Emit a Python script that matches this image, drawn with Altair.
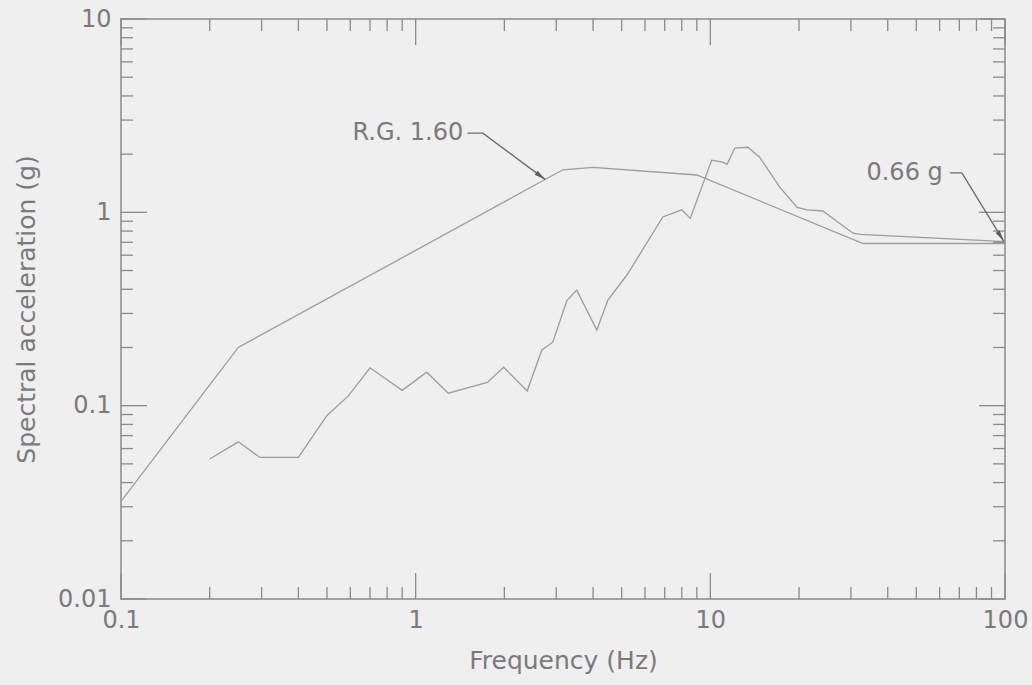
import altair as alt
import pandas as pd

# ---- data ----
# R.G. 1.60 design spectrum
rg_freq = [0.1, 0.25, 3.16, 4.0, 9.0, 33.0, 100.0]
rg_acc = [0.032, 0.20, 1.66, 1.71, 1.56, 0.69, 0.69]

# computed response spectrum
rs_freq = [0.20, 0.25, 0.296, 0.40, 0.50, 0.59, 0.70, 0.90, 1.09, 1.29, 1.75, 1.99,
           2.39, 2.68, 2.92, 3.26, 3.52, 4.12, 4.49, 5.21, 6.9, 8.0, 8.55, 10.1,
           11.0, 11.4, 12.1, 13.4, 14.7, 17.2, 19.7, 21.3, 24.1, 26.5, 30.5, 32.3, 100.0]
rs_acc = [0.053, 0.065, 0.054, 0.054, 0.089, 0.112, 0.157, 0.120, 0.149, 0.116, 0.132, 0.158,
          0.119, 0.194, 0.213, 0.35, 0.396, 0.246, 0.352, 0.474, 0.946, 1.03, 0.93, 1.86,
          1.82, 1.77, 2.15, 2.17, 1.93, 1.35, 1.06, 1.03, 1.016, 0.912, 0.78, 0.77, 0.705]

# axis ticks
x_major = [0.1, 1, 10, 100]
x_minor = [0.2, 0.3, 0.4, 0.5, 0.6, 0.7, 0.8, 0.9,
           2, 3, 4, 5, 6, 7, 8, 9,
           20, 30, 40, 50, 60, 70, 80, 90]
y_major = [0.01, 0.1, 1, 10]
y_minor = [0.02, 0.03, 0.04, 0.05, 0.06, 0.07, 0.08, 0.09,
           0.2, 0.3, 0.4, 0.5, 0.6, 0.7, 0.8, 0.9,
           2, 3, 4, 5, 6, 7, 8, 9]

# annotations
ann_text = ["R.G. 1.60", "0.66 g"]
ann_x = [1.45, 61.5]
ann_y = [2.57, 1.60]
leader_x = [[1.50, 1.69, 2.75], [65.0, 71.4, 99.0]]
leader_y = [[2.57, 2.57, 1.48], [1.60, 1.60, 0.71]]
arrow_angle = [127, 147]

# ---- styling ----
W, H = 884, 580
BG = "#efefef"
LINE = "#9c9c9c"
FRAME = "#8a8a8a"
TEXT = "#7a7a7a"
FONT = "DejaVu Sans"
MAJ, MIN = 26, 12

xscale = alt.Scale(type="log", domain=[0.1, 100], nice=False)
yscale = alt.Scale(type="log", domain=[0.01, 10], nice=False)

xaxis = alt.Axis(values=x_major, format="~g", title="Frequency (Hz)", ticks=False, tickSize=0,
                 domain=False, grid=False, labelPadding=9, titlePadding=16,
                 labelFontSize=24, titleFontSize=25, labelColor=TEXT, titleColor=TEXT,
                 labelFont=FONT, titleFont=FONT, titleFontWeight="normal", labelFlush=False)
yaxis = alt.Axis(values=y_major, format="~g", title="Spectral acceleration (g)", ticks=False,
                 tickSize=0, domain=False, grid=False, labelPadding=10, titlePadding=18,
                 labelFontSize=24, titleFontSize=25, labelColor=TEXT, titleColor=TEXT,
                 labelFont=FONT, titleFont=FONT, titleFontWeight="normal", labelFlush=False)


def X(field="f"):
    return alt.X(f"{field}:Q", scale=xscale, axis=xaxis)


def Y(field="a"):
    return alt.Y(f"{field}:Q", scale=yscale, axis=yaxis)


rg_df = pd.DataFrame({"f": rg_freq, "a": rg_acc})
rs_df = pd.DataFrame({"f": rs_freq, "a": rs_acc})

rg_line = alt.Chart(rg_df).mark_line(color=LINE, strokeWidth=1.3).encode(x=X(), y=Y())
rs_line = alt.Chart(rs_df).mark_line(color=LINE, strokeWidth=1.3).encode(x=X(), y=Y())

# inward tick marks on all four sides
xmaj_df = pd.DataFrame({"f": x_major})
xmin_df = pd.DataFrame({"f": x_minor})
ymaj_df = pd.DataFrame({"a": y_major})
ymin_df = pd.DataFrame({"a": y_minor})

tick_layers = []
for df, ln in [(xmaj_df, MAJ), (xmin_df, MIN)]:
    tick_layers.append(alt.Chart(df).mark_rule(color=FRAME, strokeWidth=1.3).encode(
        x=X(), y=alt.value(H), y2=alt.value(H - ln)))
    tick_layers.append(alt.Chart(df).mark_rule(color=FRAME, strokeWidth=1.3).encode(
        x=X(), y=alt.value(0), y2=alt.value(ln)))
for df, ln in [(ymaj_df, MAJ), (ymin_df, MIN)]:
    tick_layers.append(alt.Chart(df).mark_rule(color=FRAME, strokeWidth=1.3).encode(
        y=Y(), x=alt.value(0), x2=alt.value(ln)))
    tick_layers.append(alt.Chart(df).mark_rule(color=FRAME, strokeWidth=1.3).encode(
        y=Y(), x=alt.value(W), x2=alt.value(W - ln)))

# annotations
ann_df = pd.DataFrame({"f": ann_x, "a": ann_y, "t": ann_text})
ann = alt.Chart(ann_df).mark_text(align="right", baseline="middle", fontSize=24, font=FONT,
                                  color=TEXT).encode(x=X(), y=Y(), text="t:N")

lead_rows = []
for i, (lx, ly) in enumerate(zip(leader_x, leader_y)):
    for k, (fx, ay) in enumerate(zip(lx, ly)):
        lead_rows.append({"f": fx, "a": ay, "g": i, "k": k})
lead_df = pd.DataFrame(lead_rows)
leaders = alt.Chart(lead_df).mark_line(color="#6e6e6e", strokeWidth=1.4).encode(
    x=X(), y=Y(), detail="g:N", order="k:Q")

tip_df = pd.DataFrame({"f": [lx[-1] for lx in leader_x], "a": [ly[-1] for ly in leader_y],
                       "ang": arrow_angle})
arrows = alt.Chart(tip_df).mark_point(shape="M0,0L-0.22,1L0.22,1Z", filled=True, size=500,
                                      color="#5e5e5e", opacity=1).encode(
    x=X(), y=Y(), angle=alt.Angle("ang:Q", scale=None))

chart = alt.layer(rg_line, rs_line, *tick_layers, leaders, arrows, ann).properties(
    width=W, height=H,
    autosize=alt.AutoSizeParams(type="none"),
    padding={"left": 121, "top": 19, "right": 27, "bottom": 86},
    background=BG,
).configure_view(stroke=FRAME, strokeWidth=1.5)

chart.save("out.html", embed_options={"renderer": "svg", "actions": False})
